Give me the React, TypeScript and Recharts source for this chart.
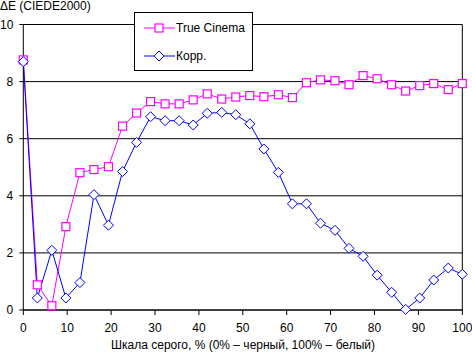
import React from 'react';
import { CartesianGrid, Line, LineChart, ReferenceLine, XAxis, YAxis } from 'recharts';

// grey levels, % (32 steps)
const greyLevels = [
  0, 3.2, 6.5, 9.7, 12.9, 16.1, 19.4, 22.6, 25.8, 29.0, 32.3, 35.5, 38.7, 41.9, 45.2, 48.4,
  51.6, 54.8, 58.1, 61.3, 64.5, 67.7, 71.0, 74.2, 77.4, 80.6, 83.9, 87.1, 90.3, 93.5, 96.8, 100,
];

const trueCinema = [
  8.76, 0.88, 0.15, 2.92, 4.81, 4.92, 5.02, 6.44, 6.9, 7.3, 7.22, 7.22, 7.36, 7.57, 7.39, 7.46,
  7.51, 7.47, 7.54, 7.44, 7.96, 8.06, 8.03, 7.89, 8.21, 8.1, 7.89, 7.67, 7.86, 7.93, 7.72, 7.93,
];

const korr = [
  8.7, 0.42, 2.09, 0.42, 0.96, 4.04, 2.97, 4.85, 5.87, 6.77, 6.63, 6.63, 6.48, 6.89, 6.92, 6.84,
  6.52, 5.64, 4.82, 3.72, 3.72, 3.04, 2.79, 2.16, 1.88, 1.22, 0.62, 0.02, 0.42, 1.05, 1.47, 1.25,
];

const xTicks = [0, 10, 20, 30, 40, 50, 60, 70, 80, 90, 100];
const yTicks = [0, 2, 4, 6, 8, 10];

const data = greyLevels.map((x, i) => ({ x, tc: trueCinema[i], korr: korr[i] }));

const FONT = '"Liberation Sans", Arial, sans-serif';
const MAGENTA = '#FF00FF';
const BLUE = '#0000FF';

const SquareDot = (props: any) => {
  const { cx, cy } = props;
  if (cx == null || cy == null) return null;
  return <rect x={cx - 4} y={cy - 4} width={8} height={8} fill="#fff" stroke={MAGENTA} strokeWidth={1.2} />;
};

const DiamondDot = (props: any) => {
  const { cx, cy } = props;
  if (cx == null || cy == null) return null;
  return (
    <polygon
      points={`${cx},${cy - 5} ${cx + 5},${cy} ${cx},${cy + 5} ${cx - 5},${cy}`}
      fill="#fff"
      stroke={BLUE}
      strokeWidth={1}
    />
  );
};

function LegendBox() {
  const items = [
    { label: 'True Cinema', color: MAGENTA, marker: 'square' },
    { label: 'Корр.', color: BLUE, marker: 'diamond' },
  ];
  return (
    <div
      style={{
        position: 'absolute',
        left: 134,
        top: 12,
        width: 117,
        height: 57,
        border: '1px solid #000',
        background: '#fff',
        fontFamily: FONT,
        fontSize: 12,
      }}
    >
      {items.map((it, i) => (
        <div key={it.label} style={{ position: 'absolute', left: 0, top: 7 + i * 28, height: 16, width: 117 }}>
          <svg width={42} height={16} style={{ position: 'absolute', left: 8, top: 0 }}>
            <line x1={1} y1={8} x2={32} y2={8} stroke={it.color} strokeWidth={1} />
            {it.marker === 'square' ? (
              <rect x={12} y={4} width={8} height={8} fill="#fff" stroke={it.color} strokeWidth={1.2} />
            ) : (
              <polygon points="16,3 21,8 16,13 11,8" fill="#fff" stroke={it.color} strokeWidth={1} />
            )}
          </svg>
          <span style={{ position: 'absolute', left: 41, top: 0, lineHeight: '16px', color: '#000' }}>{it.label}</span>
        </div>
      ))}
    </div>
  );
}

export default function App() {
  return (
    <div style={{ position: 'absolute', left: 0, top: 0, width: 472, height: 353, background: '#fff' }}>
      <LineChart width={472} height={353} data={data} margin={{ top: 24.5, right: 9.7, left: 0, bottom: 0 }}>
        <CartesianGrid vertical={false} stroke="#000" strokeWidth={1} />
        <XAxis
          dataKey="x"
          type="number"
          domain={[0, 100]}
          ticks={xTicks}
          height={43}
          tickSize={5}
          tickMargin={8}
          stroke="#000"
          tick={{ fill: '#000', fontSize: 12, fontFamily: FONT }}
        />
        <YAxis
          type="number"
          domain={[0, 10]}
          ticks={yTicks}
          width={23.3}
          tickSize={4}
          tickMargin={6}
          stroke="#000"
          tick={{ fill: '#000', fontSize: 12, fontFamily: FONT }}
        />
        <ReferenceLine x={100} stroke="#000" strokeWidth={1} />
        <Line
          dataKey="tc"
          name="True Cinema"
          stroke={MAGENTA}
          strokeWidth={1}
          dot={<SquareDot />}
          activeDot={false}
          isAnimationActive={false}
        />
        <Line
          dataKey="korr"
          name="Корр."
          stroke={BLUE}
          strokeWidth={1}
          dot={<DiamondDot />}
          activeDot={false}
          isAnimationActive={false}
        />
      </LineChart>
      <LegendBox />
      <div
        style={{
          position: 'absolute',
          left: 0,
          top: 0,
          lineHeight: '13px',
          fontFamily: FONT,
          fontSize: 12,
          color: '#000',
          whiteSpace: 'nowrap',
        }}
      >
        ΔE (CIEDE2000)
      </div>
      <div
        style={{
          position: 'absolute',
          left: 23,
          width: 440,
          top: 337,
          lineHeight: '16px',
          textAlign: 'center',
          fontFamily: FONT,
          fontSize: 12,
          color: '#000',
          whiteSpace: 'nowrap',
        }}
      >
        Шкала серого, % (0% – черный, 100% – белый)
      </div>
    </div>
  );
}
